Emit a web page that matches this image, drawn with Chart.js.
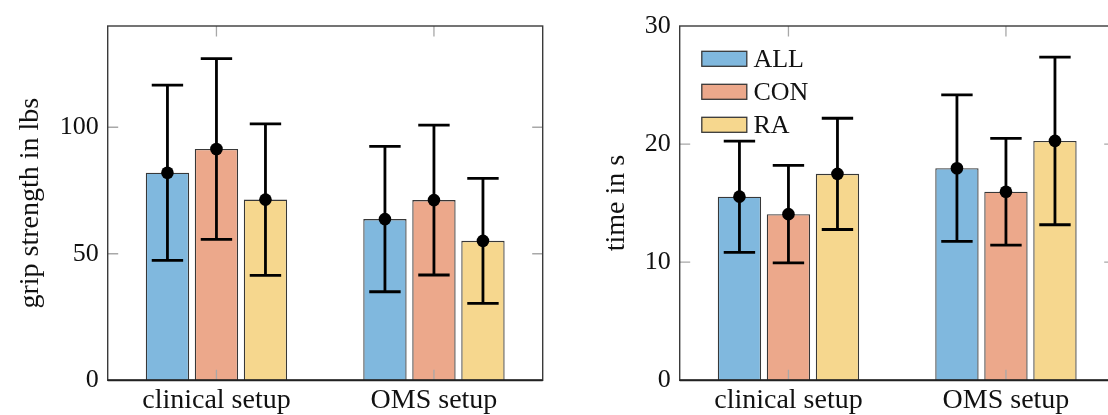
<!DOCTYPE html>
<html><head><meta charset="utf-8">
<script src="https://cdn.jsdelivr.net/npm/chart.js@4.4.1/dist/chart.umd.min.js"></script>
<style>
html,body{margin:0;padding:0;width:1108px;height:415px;overflow:hidden;background:#fff;}
.box{position:absolute;top:0;width:560px;height:415px;}
</style></head><body>
<div class="box" style="left:0px"><canvas id="c1"></canvas></div>
<div class="box" style="left:572px"><canvas id="c2"></canvas></div>
<script>
// ---- data ----
const categories = ['clinical setup', 'OMS setup'];
const seriesLabels = ['ALL', 'CON', 'RA'];

const gripAll = [82.0, 63.7];
const gripAllSd = [34.6, 28.7];
const gripCon = [91.4, 71.2];
const gripConSd = [35.7, 29.6];
const gripRa = [71.4, 55.1];
const gripRaSd = [29.9, 24.7];
const gripTicks = [0, 50, 100];

const timeAll = [15.55, 17.96];
const timeAllSd = [4.71, 6.2];
const timeCon = [14.07, 15.96];
const timeConSd = [4.13, 4.52];
const timeRa = [17.48, 20.27];
const timeRaSd = [4.71, 7.1];
const timeTicks = [0, 10, 20, 30];

// ---- styles ----
const FONT = "'Liberation Serif', 'Times New Roman', serif";
const FILLS = ['#80b8de', '#eca88b', '#f6d78e'];
const EDGE = '#383838';

function makeDatasets(vals, sds) {
  return vals.map((v, i) => ({
    label: seriesLabels[i],
    data: v,
    errors: sds[i],
    backgroundColor: FILLS[i],
    borderColor: EDGE,
    borderWidth: 1.3,
    categoryPercentage: 0.676,
    barPercentage: 0.884
  }));
}

const decor = {
  id: 'decor',
  afterDatasetsDraw(chart, args, opts) {
    const ctx = chart.ctx;
    const a = chart.chartArea;
    const xs = chart.scales.x, ys = chart.scales.y;
    ctx.save();
    // inward ticks
    ctx.strokeStyle = '#a8a8a8';
    ctx.lineWidth = 1.3;
    const TL = 10.5;
    ys.ticks.forEach(t => {
      const py = ys.getPixelForValue(t.value);
      if (Math.abs(py - a.bottom) < 1 || Math.abs(py - a.top) < 1) return;
      ctx.beginPath();
      ctx.moveTo(a.left, py); ctx.lineTo(a.left + TL, py);
      ctx.moveTo(a.right, py); ctx.lineTo(a.right - TL, py);
      ctx.stroke();
    });
    categories.forEach((c, i) => {
      const px = xs.getPixelForValue(i);
      ctx.beginPath();
      ctx.moveTo(px, a.top); ctx.lineTo(px, a.top + TL);
      ctx.moveTo(px, a.bottom); ctx.lineTo(px, a.bottom - TL);
      ctx.stroke();
    });
    // frame
    ctx.strokeStyle = '#3a3a3a';
    ctx.lineWidth = 1.4;
    ctx.strokeRect(a.left, a.top, a.right - a.left, a.bottom - a.top);
    ctx.strokeStyle = '#222';
    ctx.lineWidth = 2;
    ctx.beginPath();
    ctx.moveTo(a.left, a.bottom); ctx.lineTo(a.right, a.bottom);
    ctx.stroke();
    // error bars + mean markers
    chart.data.datasets.forEach((ds, di) => {
      const meta = chart.getDatasetMeta(di);
      meta.data.forEach((el, j) => {
        const m = ds.data[j], e = ds.errors[j];
        const yT = ys.getPixelForValue(m + e);
        const yB = ys.getPixelForValue(m - e);
        const yM = ys.getPixelForValue(m);
        ctx.strokeStyle = '#000';
        ctx.lineWidth = 2.8;
        ctx.beginPath();
        ctx.moveTo(el.x, yT); ctx.lineTo(el.x, yB);
        ctx.moveTo(el.x - 15.7, yT); ctx.lineTo(el.x + 15.7, yT);
        ctx.moveTo(el.x - 15.7, yB); ctx.lineTo(el.x + 15.7, yB);
        ctx.stroke();
        ctx.fillStyle = '#000';
        ctx.beginPath();
        ctx.arc(el.x, yM, 6.3, 0, Math.PI * 2);
        ctx.fill();
      });
    });
    // legend
    if (opts.legend) {
      ctx.font = '26px ' + FONT;
      ctx.textBaseline = 'middle';
      ctx.textAlign = 'left';
      chart.data.datasets.forEach((ds, di) => {
        const bx = a.left + 22.1, by = a.top + 25.3 + di * 33;
        ctx.fillStyle = ds.backgroundColor;
        ctx.fillRect(bx, by, 45, 15);
        ctx.strokeStyle = EDGE;
        ctx.lineWidth = 1.3;
        ctx.strokeRect(bx, by, 45, 15);
        ctx.fillStyle = '#111';
        ctx.fillText(ds.label, bx + 51.6, by + 8.5);
      });
    }
    ctx.restore();
  }
};

function makeChart(id, datasets, yMax, ticks, title, titlePad, legend) {
  return new Chart(document.getElementById(id), {
    type: 'bar',
    data: { labels: categories, datasets },
    plugins: [decor],
    options: {
      responsive: true,
      maintainAspectRatio: false,
      animation: false,
      devicePixelRatio: 1,
      layout: { padding: { top: 26, right: 17.3, bottom: 0, left: 0 } },
      plugins: { legend: { display: false }, tooltip: { enabled: false }, decor: { legend } },
      scales: {
        x: {
          offset: true,
          grid: { display: false, drawTicks: false },
          border: { display: false },
          ticks: { padding: 4, color: '#111', font: { family: FONT, size: 28 }, maxRotation: 0 },
          afterFit(s) { s.height = 34.7; }
        },
        y: {
          min: 0, max: yMax,
          grid: { display: false, drawTicks: false },
          border: { display: false },
          afterBuildTicks(s) { s.ticks = ticks.map(v => ({ value: v })); },
          ticks: { padding: 9, color: '#111', font: { family: FONT, size: 26 } },
          title: { display: true, text: title, color: '#111', font: { family: FONT, size: 28 }, padding: { top: titlePad, bottom: 0 } },
          afterFit(s) { s.width = 107.7; }
        }
      }
    }
  });
}

makeChart('c1', makeDatasets([gripAll, gripCon, gripRa], [gripAllSd, gripConSd, gripRaSd]), 140, gripTicks, 'grip strength in lbs', 14.2, false);
makeChart('c2', makeDatasets([timeAll, timeCon, timeRa], [timeAllSd, timeConSd, timeRaSd]), 30, timeTicks, 'time in s', 28.2, true);
</script>
</body></html>
